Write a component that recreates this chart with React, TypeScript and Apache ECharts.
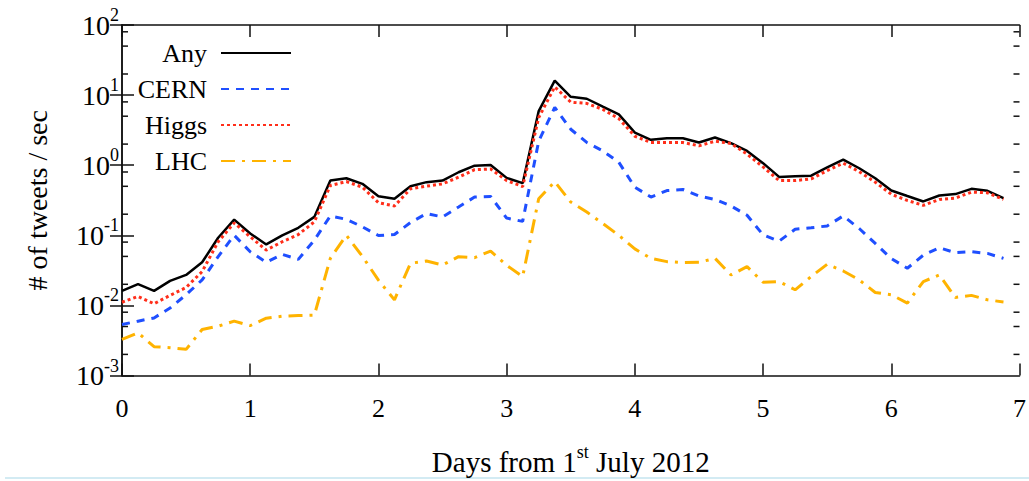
import React, { useEffect, useRef } from 'react';
import * as echarts from 'echarts';

// Days from 1st July 2012 (3-hour samples)
const DAYS = [
  0, 0.125, 0.25, 0.375, 0.5, 0.625, 0.75, 0.875,
  1, 1.125, 1.25, 1.375, 1.5, 1.625, 1.75, 1.875,
  2, 2.125, 2.25, 2.375, 2.5, 2.625, 2.75, 2.875,
  3, 3.125, 3.25, 3.375, 3.5, 3.625, 3.75, 3.875,
  4, 4.125, 4.25, 4.375, 4.5, 4.625, 4.75, 4.875,
  5, 5.125, 5.25, 5.375, 5.5, 5.625, 5.75, 5.875,
  6, 6.125, 6.25, 6.375, 6.5, 6.625, 6.75, 6.875,
];

const ANY = [
  0.0161, 0.0201, 0.0161, 0.0224, 0.0272, 0.0412, 0.0922, 0.1675,
  0.106, 0.0741, 0.1, 0.128, 0.183, 0.603, 0.652, 0.542,
  0.36, 0.332, 0.502, 0.573, 0.603, 0.793, 0.984, 1.007,
  0.659, 0.554, 5.91, 16.1, 9.46, 8.87, 6.83, 5.31,
  2.92, 2.3, 2.43, 2.43, 2.11, 2.48, 2.06, 1.6,
  1.07, 0.681, 0.697, 0.71, 0.933, 1.2, 0.904, 0.652,
  0.435, 0.363, 0.304, 0.37, 0.387, 0.46, 0.431, 0.34,
];

const CERN = [
  0.00533, 0.00596, 0.00663, 0.00919, 0.0142, 0.0231, 0.0496, 0.1,
  0.0583, 0.0412, 0.0535, 0.0454, 0.0853, 0.189, 0.169, 0.132,
  0.0993, 0.1026, 0.152, 0.204, 0.183, 0.253, 0.351, 0.358,
  0.176, 0.158, 2.2, 6.67, 3.26, 2.11, 1.6, 1.1,
  0.486, 0.351, 0.435, 0.45, 0.363, 0.325, 0.262, 0.193,
  0.1016, 0.0825, 0.122, 0.128, 0.136, 0.189, 0.125, 0.0766,
  0.0465, 0.0339, 0.0522, 0.0665, 0.0565, 0.0583, 0.0552, 0.0469,
];

const HIGGS = [
  0.0111, 0.01345, 0.01057, 0.0139, 0.018, 0.0304, 0.081, 0.15,
  0.0953, 0.0615, 0.081, 0.1026, 0.155, 0.513, 0.584, 0.486,
  0.292, 0.262, 0.46, 0.502, 0.542, 0.674, 0.863, 0.883,
  0.603, 0.496, 4.77, 13.1, 7.93, 7.6, 6.25, 4.62,
  2.59, 2.11, 2.11, 2.11, 1.89, 2.2, 2.04, 1.44,
  0.944, 0.603, 0.603, 0.638, 0.836, 1.07, 0.809, 0.573,
  0.385, 0.314, 0.267, 0.325, 0.34, 0.413, 0.404, 0.325,
];

const LHC = [
  0.00327, 0.00406, 0.00258, 0.00249, 0.00236, 0.00453, 0.00506, 0.00596,
  0.00515, 0.00656, 0.00701, 0.00715, 0.00724, 0.0469, 0.1, 0.05,
  0.0229, 0.012, 0.0399, 0.043, 0.0377, 0.0496, 0.048, 0.0596,
  0.0373, 0.0258, 0.332, 0.583, 0.298, 0.215, 0.147, 0.1,
  0.064, 0.0469, 0.0421, 0.0408, 0.0412, 0.0469, 0.0272, 0.0358,
  0.0214, 0.0219, 0.0167, 0.0258, 0.0386, 0.031, 0.0231, 0.0153,
  0.0142, 0.0108, 0.0219, 0.0272, 0.013, 0.0139, 0.012, 0.0112,
];

const SERIES_NAMES = ['Any', 'CERN', 'Higgs', 'LHC'];
const MINOR_Y_TICKS = [
  0.002, 0.005, 0.008, 0.02, 0.05, 0.08, 0.2, 0.5, 0.8, 2, 5, 8, 20, 50, 80,
];

const FONT = '"Liberation Serif", "DejaVu Serif", serif';

export default function App() {
  const ref = useRef<HTMLDivElement>(null);

  useEffect(() => {
    if (!ref.current) return;
    const chart = echarts.init(ref.current, undefined, { renderer: 'svg' });

    const mk = (arr: number[]) => DAYS.map((d, i) => [d, arr[i]]);
    const axisLine = { lineStyle: { color: '#111', width: 1.5 } };
    const tick = { inside: true, length: 12, lineStyle: { color: '#111', width: 1.5 } };

    const lineSeries = (name: string, data: number[], color: string, width: number, type: any) => ({
      name,
      type: 'line',
      data: mk(data),
      symbol: 'none',
      showSymbol: false,
      color,
      lineStyle: { color, width, type, cap: 'butt' },
      z: 3,
    });

    chart.setOption({
      animation: false,
      backgroundColor: '#fff',
      grid: { left: 122, right: 4, top: 25, bottom: 103, containLabel: false },
      legend: {
        data: SERIES_NAMES,
        orient: 'vertical',
        align: 'right',
        right: 737,
        top: 40,
        padding: 0,
        itemWidth: 70,
        itemHeight: 14,
        itemGap: 10,
        itemStyle: { opacity: 0, borderWidth: 0 },
        textStyle: { fontSize: 26, fontFamily: FONT, color: '#000', lineHeight: 26, padding: [0, 9, 0, 0] },
      },
      xAxis: [
        {
          type: 'value',
          min: 0,
          max: 7,
          interval: 1,
          position: 'bottom',
          axisLine,
          axisTick: tick,
          splitLine: { show: false },
          axisLabel: { fontSize: 26, fontFamily: FONT, color: '#000', margin: 20 },
          name: 'Days from 1{s|st} July 2012',
          nameLocation: 'middle',
          nameGap: 67,
          nameTextStyle: {
            fontSize: 29,
            fontFamily: FONT,
            color: '#000',
            rich: { s: { fontSize: 18, fontFamily: FONT, color: '#000', padding: [0, 0, 20, 0] } },
          },
        },
        {
          type: 'value',
          min: 0,
          max: 7,
          interval: 1,
          position: 'top',
          axisLine,
          axisTick: tick,
          splitLine: { show: false },
          axisLabel: { show: false },
        },
      ],
      yAxis: [
        {
          type: 'log',
          logBase: 10,
          min: 0.001,
          max: 100,
          position: 'left',
          axisLine: { show: true, ...axisLine },
          axisTick: tick,
          splitLine: { show: false },
          axisLabel: {
            margin: 3,
            formatter: (v: number) => `{b|10}{s|${Math.round(Math.log10(v))}}`,
            rich: {
              b: { fontSize: 28, fontFamily: FONT, color: '#000' },
              s: { fontSize: 18, fontFamily: FONT, color: '#000', padding: [0, 0, 20, 0] },
            },
          },
          name: '# of tweets / sec',
          nameLocation: 'middle',
          nameGap: 71,
          nameTextStyle: { fontSize: 28, fontFamily: FONT, color: '#000' },
        },
        {
          type: 'log',
          logBase: 10,
          min: 0.001,
          max: 100,
          position: 'right',
          axisLine: { show: true, ...axisLine },
          axisTick: tick,
          splitLine: { show: false },
          axisLabel: { show: false },
        },
      ],
      series: [
        lineSeries('Any', ANY, '#000000', 2.5, 'solid'),
        lineSeries('CERN', CERN, '#1f4fff', 3, [8, 7]),
        lineSeries('Higgs', HIGGS, '#ff2e1a', 3, [3, 3]),
        lineSeries('LHC', LHC, '#ffb300', 3, [14, 7, 3, 7]),
        {
          name: 'minorTicks',
          type: 'custom',
          silent: true,
          z: 2,
          data: MINOR_Y_TICKS.map((v) => [0, v]),
          renderItem: (params: any, api: any) => {
            const v = api.value(1);
            const p0 = api.coord([0, v]);
            const p1 = api.coord([7, v]);
            const st = { stroke: '#111', lineWidth: 1.5 };
            return {
              type: 'group',
              children: [
                { type: 'line', shape: { x1: p0[0], y1: p0[1], x2: p0[0] + 6, y2: p0[1] }, style: st },
                { type: 'line', shape: { x1: p1[0] - 6, y1: p1[1], x2: p1[0], y2: p1[1] }, style: st },
              ],
            };
          },
        },
      ],
      graphic: [
        {
          type: 'line',
          shape: { x1: 5, y1: 478, x2: 1029, y2: 478 },
          style: { stroke: '#c4e4ef', lineWidth: 1.5 },
          silent: true,
        },
      ],
    });

    return () => chart.dispose();
  }, []);

  return (
    <div
      ref={ref}
      style={{ position: 'fixed', left: 0, top: 0, width: 1029, height: 481, background: '#fff' }}
    />
  );
}
